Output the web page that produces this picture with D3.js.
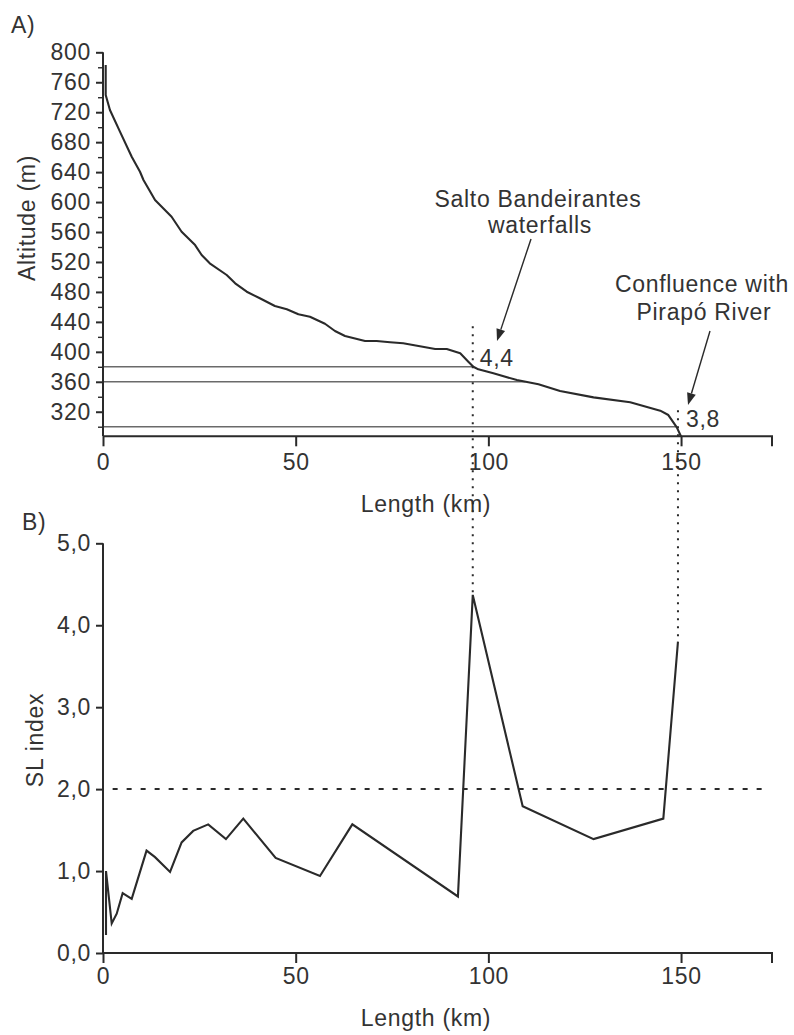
<!DOCTYPE html>
<html>
<head>
<meta charset="utf-8">
<script src="https://cdn.jsdelivr.net/npm/d3@7/dist/d3.min.js"></script>
<style>
  html, body { margin: 0; padding: 0; background: #fff; }
  svg text { font-family: "Liberation Sans", Arial, sans-serif; fill: #333; letter-spacing: 0.7px; }
</style>
</head>
<body>
<svg id="chart" width="794" height="1035"></svg>
<script>
// ---- Data: longitudinal profile (A) ----
const profileKm  = [0.7, 0.7, 1.8, 4.4, 7.45, 9.6, 10.5, 13.5, 17.8, 20.4, 23.9, 25.6, 27.7, 32.1, 34.3, 37.3, 40.7, 44.6, 47.7, 50.7, 53.7, 57.6, 60.2, 62.8, 68.0, 71.0, 74.5, 77.9, 86.2, 89.2, 92.7, 94.8, 96.1, 97.4, 101.3, 107.4, 113.0, 118.6, 127.3, 136.8, 144.6, 146.7, 148.9, 150.0];
const profileAlt = [783, 743, 723, 694, 660.6, 640.5, 629.5, 602.8, 580.4, 560.4, 542.6, 529.3, 518.2, 502.6, 491.5, 480.3, 471.5, 461.2, 456.8, 450.1, 446.9, 437.5, 427.8, 421.1, 414.4, 414.4, 412.7, 411.4, 403.8, 403.8, 398.0, 386.8, 380.1, 376.6, 371.3, 362.3, 356.6, 347.6, 339.2, 332.6, 321.4, 315.6, 299.2, 286.9];
const refLevels  = [380, 360, 300];

// ---- Data: SL index (B) ----
const slKm    = [0.78, 0.78, 2.26, 3.56, 5.1, 7.45, 11.3, 13.5, 17.4, 20.4, 23.4, 27.3, 31.9, 36.4, 44.8, 56.3, 64.7, 92.1, 95.95, 108.9, 127.3, 145.4, 149.2];
const slValue = [0.22, 1.0, 0.36, 0.48, 0.73, 0.66, 1.25, 1.17, 0.99, 1.35, 1.49, 1.57, 1.39, 1.64, 1.16, 0.94, 1.57, 0.69, 4.37, 1.79, 1.39, 1.64, 3.80];
const slThreshold = 2.0;

// ---- Highlights ----
const highlightKm  = [95.95, 149.2];
const highlightSL  = [4.4, 3.8];
const highlightTopAlt = [434, 322];

// ---- Tick labels ----
const altTicks      = [320, 360, 400, 440, 480, 520, 560, 600, 640, 680, 720, 760, 800];
const altMinorTicks = [300, 340, 380, 420, 460, 500, 540, 580, 620, 660, 700, 740, 780];
const kmTicks       = [0, 50, 100, 150];
const slTicks       = [0, 1, 2, 3, 4, 5];
const slTickLabels  = ["0,0", "1,0", "2,0", "3,0", "4,0", "5,0"];

const svg = d3.select("#chart");
const INK = "#2a2a2a";
const FS = 23;

const xTop = d3.scaleLinear().domain([0, 173.6]).range([103, 772]);
const yTop = d3.scaleLinear().domain([287.2, 800]).range([436.3, 52.3]);
const xBot = d3.scaleLinear().domain([0, 173.6]).range([103, 772]);
const yBot = d3.scaleLinear().domain([0, 5]).range([953, 543.3]);

function styleAxis(g) {
  g.selectAll("line").attr("stroke", INK).attr("stroke-width", 2);
  g.selectAll("path.domain").remove();
  g.selectAll("text").attr("font-size", FS).style("fill", "#333")
    .attr("font-family", '"Liberation Sans", Arial, sans-serif');
}

// ===== Panel A =====
svg.append("text").attr("x", 11).attr("y", 33).attr("font-size", FS).text("A)");

function kmAtAlt(a) {
  for (let i = 1; i < profileAlt.length; i++) {
    const a0 = profileAlt[i - 1], a1 = profileAlt[i];
    if (i > 1 && a0 >= a && a1 <= a) {
      const t = (a0 - a) / (a0 - a1);
      return profileKm[i - 1] + t * (profileKm[i] - profileKm[i - 1]);
    }
  }
  return profileKm[profileKm.length - 1];
}
svg.append("g").selectAll("line").data(refLevels).join("line")
  .attr("x1", xTop(0)).attr("x2", d => xTop(kmAtAlt(d)))
  .attr("y1", d => yTop(d)).attr("y2", d => yTop(d))
  .attr("stroke", "#6a6a6a").attr("stroke-width", 1.4);

svg.append("g").attr("transform", `translate(${xTop(0)},0)`)
  .call(d3.axisLeft(yTop).tickValues(altTicks).tickSize(7).tickPadding(5).tickSizeOuter(0))
  .call(styleAxis);
svg.append("g").attr("transform", `translate(${xTop(0)},0)`)
  .call(d3.axisLeft(yTop).tickValues(altMinorTicks).tickSize(5).tickFormat("").tickSizeOuter(0))
  .call(g => { styleAxis(g); g.selectAll("line").attr("stroke-width", 1.4); });
svg.append("line").attr("x1", xTop(0)).attr("x2", xTop(0))
  .attr("y1", yTop(800)).attr("y2", yTop.range()[0]).attr("stroke", INK).attr("stroke-width", 2);

svg.append("g").attr("transform", `translate(0,${yTop.range()[0]})`)
  .call(d3.axisBottom(xTop).tickValues(kmTicks).tickSize(10).tickPadding(7).tickSizeOuter(0))
  .call(styleAxis);
svg.append("path")
  .attr("d", `M${xTop.range()[0]},${yTop.range()[0]}H${xTop.range()[1]}v10`)
  .attr("fill", "none").attr("stroke", INK).attr("stroke-width", 2);

svg.append("text").attr("transform", "translate(35,218) rotate(-90)")
  .attr("text-anchor", "middle").attr("font-size", FS).text("Altitude (m)");
svg.append("text").attr("x", 426).attr("y", 512).attr("text-anchor", "middle")
  .attr("font-size", FS).text("Length (km)");

const profile = profileKm.map((k, i) => [k, profileAlt[i]]);
svg.append("path").datum(profile)
  .attr("d", d3.line().x(d => xTop(d[0])).y(d => yTop(d[1])))
  .attr("fill", "none").attr("stroke", INK).attr("stroke-width", 2.1)
  .attr("stroke-linejoin", "round");

// ===== Panel B =====
svg.append("text").attr("x", 22).attr("y", 530).attr("font-size", FS).text("B)");

svg.append("g").attr("transform", `translate(${xBot(0)},0)`)
  .call(d3.axisLeft(yBot).tickValues(slTicks).tickFormat((d, i) => slTickLabels[i]).tickSize(7).tickPadding(5).tickSizeOuter(0))
  .call(styleAxis);
svg.append("line").attr("x1", xBot(0)).attr("x2", xBot(0))
  .attr("y1", yBot(5)).attr("y2", yBot(0)).attr("stroke", INK).attr("stroke-width", 2);

svg.append("g").attr("transform", `translate(0,${yBot(0)})`)
  .call(d3.axisBottom(xBot).tickValues(kmTicks).tickSize(10).tickPadding(5).tickSizeOuter(0))
  .call(styleAxis);
svg.append("path")
  .attr("d", `M${xBot.range()[0]},${yBot(0)}H${xBot.range()[1]}v10`)
  .attr("fill", "none").attr("stroke", INK).attr("stroke-width", 2);

svg.append("text").attr("transform", "translate(43,740) rotate(-90)")
  .attr("text-anchor", "middle").attr("font-size", FS).text("SL index");
svg.append("text").attr("x", 426).attr("y", 1026).attr("text-anchor", "middle")
  .attr("font-size", FS).text("Length (km)");

svg.append("line").attr("x1", xBot(2.5)).attr("x2", xBot(171))
  .attr("y1", yBot(slThreshold)).attr("y2", yBot(slThreshold))
  .attr("stroke", INK).attr("stroke-width", 2).attr("stroke-dasharray", "5,9");

const sl = slKm.map((k, i) => [k, slValue[i]]);
svg.append("path").datum(sl)
  .attr("d", d3.line().x(d => xBot(d[0])).y(d => yBot(d[1])))
  .attr("fill", "none").attr("stroke", INK).attr("stroke-width", 2.1)
  .attr("stroke-linejoin", "miter");

svg.append("g").selectAll("line").data(highlightKm).join("line")
  .attr("x1", d => xTop(d)).attr("x2", d => xTop(d))
  .attr("y1", (d, i) => yTop(highlightTopAlt[i]))
  .attr("y2", (d, i) => yBot(slValue[slKm.indexOf(d)]) - 2)
  .attr("stroke", INK).attr("stroke-width", 2).attr("stroke-dasharray", "2,6");

svg.append("text").attr("x", xTop(highlightKm[0]) + 7).attr("y", 366).attr("font-size", FS)
  .text(d3.format(".1f")(highlightSL[0]).replace(".", ","));
svg.append("text").attr("x", xTop(highlightKm[1]) + 8).attr("y", 427).attr("font-size", FS)
  .text(d3.format(".1f")(highlightSL[1]).replace(".", ","));

svg.append("text").attr("x", 538).attr("y", 207).attr("text-anchor", "middle").attr("font-size", FS).text("Salto Bandeirantes");
svg.append("text").attr("x", 540).attr("y", 233).attr("text-anchor", "middle").attr("font-size", FS).text("waterfalls");
svg.append("text").attr("x", 702).attr("y", 292).attr("text-anchor", "middle").attr("font-size", FS).text("Confluence with");
svg.append("text").attr("x", 704).attr("y", 320).attr("text-anchor", "middle").attr("font-size", FS).text("Pirapó River");

function arrow(x1, y1, x2, y2) {
  const ang = Math.atan2(y2 - y1, x2 - x1);
  const L = 12, W = 4.5;
  const bx = x2 - L * Math.cos(ang), by = y2 - L * Math.sin(ang);
  svg.append("line").attr("x1", x1).attr("y1", y1).attr("x2", bx).attr("y2", by)
    .attr("stroke", INK).attr("stroke-width", 1.4);
  const px = -Math.sin(ang) * W, py = Math.cos(ang) * W;
  svg.append("path")
    .attr("d", `M${x2},${y2}L${bx + px},${by + py}L${bx - px},${by - py}Z`)
    .attr("fill", INK);
}
arrow(531, 239, 497, 341);
arrow(710, 331, 688, 405);
</script>
</body>
</html>
